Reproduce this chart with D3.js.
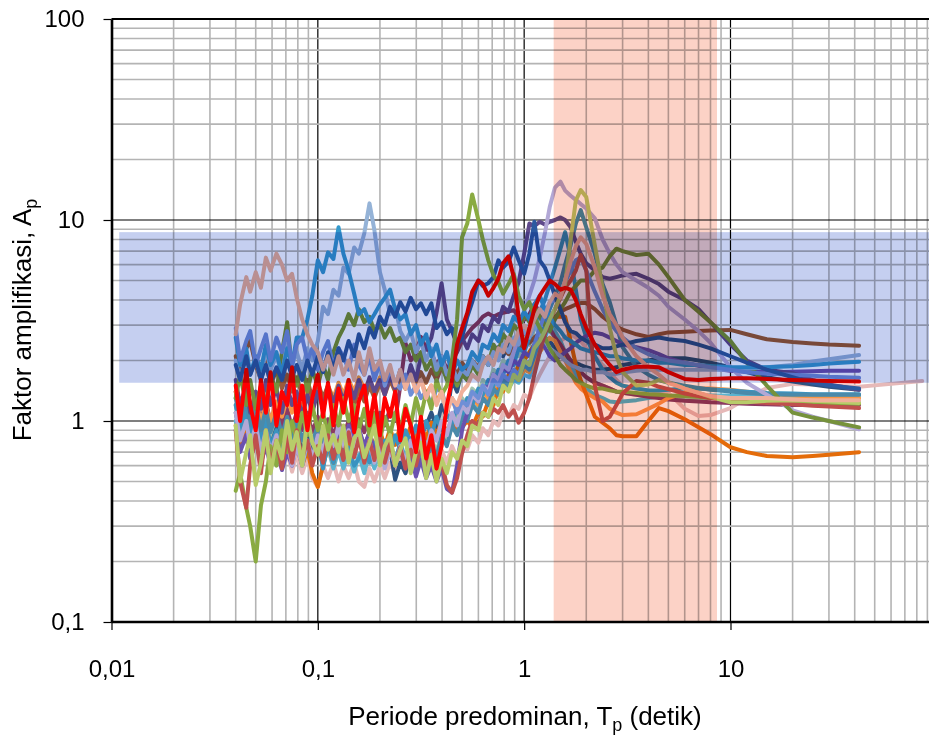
<!DOCTYPE html>
<html>
<head>
<meta charset="utf-8">
<script src="https://cdn.jsdelivr.net/npm/d3@7"></script>
<style>
body{margin:0;background:#fff;}
svg{display:block;font-family:"Liberation Sans",Arial,sans-serif;background:#fff;}
</style>
</head>
<body>
<div id="chart"></div>
<script>
// periods (s), shared by every record
const periods = [
  0.040,0.042,0.045,0.047,0.050,0.053,0.056,0.059,0.063,0.067,
  0.071,0.075,0.079,0.084,0.089,0.094,0.100,0.106,0.112,0.119,
  0.126,0.133,0.141,0.150,0.158,0.168,0.178,0.188,0.200,0.211,
  0.224,0.237,0.251,0.266,0.282,0.299,0.316,0.335,0.355,0.376,
  0.398,0.422,0.447,0.473,0.500,
  0.53,0.56,0.60,0.63,0.67,0.71,0.75,0.79,0.84,0.89,
  0.94,1.00,1.06,1.12,1.19,1.26,1.33,1.41,1.50,1.58,
  1.68,1.78,1.88,2.00,2.2,2.4,2.6,2.8,3.0,
  3.5,4,4.5,5,6,7,8,10,12,15,20,25,30,42,
  60,85
];

// amplification factor per record
const peach = [
  2.7,3.8,5.2,4.4,5.5,4.6,6.5,5.6,6.8,6.0,
  5.0,5.4,4.1,3.2,2.7,2.4,2.2,1.8,2.1,1.7,
  2.1,1.7,2.0,1.6,2.2,1.7,2.3,1.8,2.0,1.6,
  1.9,1.5,1.8,1.45,1.7,1.4,1.6,1.3,1.5,1.2,
  1.4,1.1,1.3,1.2,1.4,
  1.5,1.7,1.6,1.9,2.1,1.9,2.3,2.2,2.6,2.4,
  2.8,3.0,2.7,3.2,3.6,3.3,3.9,4.3,4.1,5.0,
  6.2,7.4,8.2,7.6,5.8,4.2,3.4,3.0,2.6,
  2.1,1.85,1.7,1.55,1.45,1.38,1.33,1.3,1.3,1.3,1.28,1.27,1.27,1.27
];
const lightBlue = [
  2.6,1.9,2.3,1.7,2.1,1.8,2.4,1.9,2.2,1.7,
  2.3,1.9,2.6,2.6,3.2,4.2,6.3,5.5,6.9,6.4,
  9.2,6.8,5.6,4.3,3.4,3.6,3.1,3.4,3.8,4.1,
  4.5,3.6,3.2,3.4,2.7,3.0,2.4,2.7,2.1,2.4,
  1.9,2.2,1.7,2.0,1.8,
  1.9,2.2,2.0,2.4,2.3,2.7,2.5,3.0,2.8,3.3,
  3.1,3.5,3.2,3.8,4.2,3.6,3.3,3.0,2.8,2.6,
  2.5,2.4,2.3,2.25,2.2,2.15,2.1,2.1,2.05,
  2.0,2.0,1.95,1.95,1.9,1.9,1.88,1.85,1.85,1.85,1.87,1.9,1.93,1.97
];
const lightSteel = [
  2.0,1.6,2.2,1.7,2.0,1.6,2.3,1.8,2.1,1.7,
  2.4,1.9,2.2,1.8,2.3,2.0,2.5,3.7,3.4,4.5,
  4.2,5.8,5.4,7.3,6.8,8.6,12.1,8.9,5.5,4.5,
  3.4,3.7,2.8,2.5,2.8,2.2,2.5,2.0,2.3,1.8,
  2.1,1.7,1.9,1.6,1.8,
  1.7,2.0,1.8,2.1,1.9,2.2,2.0,2.4,2.2,2.6,
  2.4,2.8,2.6,3.0,2.7,2.5,2.3,2.2,2.1,2.0,
  1.9,1.85,1.8,1.8,1.75,1.75,1.7,1.72,1.74,
  1.78,1.8,1.8,1.8,1.8,1.8,1.8,1.8,1.82,1.85,1.9,1.98,2.03,2.13
];
const cornflower = [
  2.9,2.0,2.5,2.8,1.9,2.3,2.7,2.0,2.6,2.2,
  2.8,1.9,2.4,2.6,2.0,2.3,1.8,2.2,2.5,1.85,
  2.3,2.1,1.8,2.4,1.9,1.7,2.1,1.6,1.95,1.5,
  1.8,1.55,1.45,1.7,1.35,1.5,1.3,1.4,1.2,1.45,
  1.4,1.15,1.3,1.1,1.25,
  1.2,1.4,1.3,1.5,1.35,1.6,1.5,1.7,1.6,1.8,
  1.7,2.0,1.9,2.4,2.9,3.4,3.9,4.0,4.3,4.9,
  5.6,6.3,6.5,5.6,4.4,3.6,3.1,2.8,2.6,
  2.3,2.15,2.05,2.0,1.95,1.9,1.85,1.8,1.75,1.72,1.7,1.68,1.66,1.64
];
const red = [
  1.5,1.0,1.8,1.2,0.9,1.6,1.1,1.75,0.95,1.4,
  1.2,1.85,1.0,1.5,0.9,1.3,1.7,1.05,1.55,0.95,
  1.45,1.1,1.6,0.88,1.25,1.5,0.95,1.35,0.85,1.3,
  1.05,1.4,0.8,1.15,0.95,0.7,1.05,0.65,0.85,0.58,
  0.75,1.2,1.6,2.4,2.9,
  3.45,4.4,5.0,4.8,4.2,4.6,5.1,6.1,6.6,5.2,
  3.3,2.3,2.9,3.6,4.2,4.6,5.0,4.8,4.5,4.6,
  4.5,4.0,3.4,2.9,2.4,2.1,1.9,1.75,1.8,
  1.86,1.86,1.85,1.75,1.62,1.6,1.62,1.63,1.63,1.62,1.6,1.59,1.58,1.57
];
const olive = [
  0.45,0.55,0.37,0.3,0.2,0.38,0.5,0.75,0.6,0.9,
  0.7,1.0,0.8,1.1,0.85,1.2,0.9,1.1,0.85,1.2,
  0.95,1.3,1.0,1.2,0.9,1.15,0.85,1.1,0.8,1.05,
  0.85,1.1,0.9,1.2,0.95,1.3,1.05,1.4,1.15,1.6,
  1.35,1.5,2.0,3.2,8.2,
  9.6,13.4,10.0,8.0,6.3,5.3,4.9,4.3,4.8,5.4,
  4.2,3.6,3.9,3.3,2.9,2.6,2.3,2.1,1.9,1.8,
  1.7,1.6,1.55,1.5,1.45,1.45,1.42,1.4,1.4,
  1.38,1.36,1.35,1.34,1.33,1.32,1.3,1.3,1.28,1.27,1.25,1.24,1.23,1.22
];
const green = [
  1.3,1.7,1.2,1.6,1.15,1.5,1.2,1.7,1.4,2.2,
  3.1,1.8,1.5,1.9,1.4,1.8,1.5,1.9,1.6,2.2,
  2.6,2.9,3.4,3.0,3.6,3.1,3.3,2.8,3.0,2.6,
  2.9,2.5,2.6,2.2,2.4,2.0,2.2,1.8,2.0,1.7,
  1.9,1.6,1.8,1.5,1.7,
  1.6,1.9,1.7,2.1,1.9,2.4,2.2,2.7,2.5,3.0,
  2.8,3.4,3.1,3.7,3.3,3.0,2.8,3.2,3.6,3.9,
  4.4,4.7,5.0,5.0,5.6,5.8,6.6,7.2,7.0,
  6.7,6.8,6.0,5.2,4.0,3.5,3.1,2.5,1.95,1.5,1.1,1.04,1.0,0.93
];
const lightGreen = [
  0.95,0.5,0.7,0.85,0.48,0.62,0.9,0.55,0.8,0.65,
  1.0,0.72,0.88,0.6,1.05,0.78,0.68,0.95,0.72,0.85,
  0.7,0.95,0.62,0.82,0.9,0.66,0.78,0.95,0.6,0.75,
  0.85,0.6,0.72,0.82,0.55,0.7,0.78,0.52,0.68,0.5,
  0.65,0.55,0.7,0.65,0.8,
  0.75,0.95,0.9,1.1,1.05,1.3,1.2,1.5,1.4,1.7,
  1.6,2.0,1.9,2.3,2.5,2.8,3.2,3.6,4.2,4.8,
  8.0,12.5,14.1,13.0,7.5,4.6,2.9,2.1,1.75,
  1.5,1.52,1.6,1.56,1.45,1.38,1.32,1.24,1.24,1.26,1.27,1.26,1.25,1.23
];
const paleLav = [
  1.1,0.8,1.0,0.75,0.95,0.7,0.9,0.7,0.85,0.65,
  0.8,0.6,0.75,0.6,0.8,0.65,0.85,0.7,0.9,0.75,
  0.95,0.75,0.9,0.7,0.85,0.65,0.8,0.62,0.75,0.58,
  0.72,0.6,0.75,0.62,0.8,0.68,0.85,0.72,0.9,0.8,
  1.0,0.85,1.1,0.95,1.2,
  1.1,1.35,1.25,1.5,1.4,1.7,1.6,1.9,1.8,2.2,
  2.6,3.5,4.2,5.0,6.5,8.6,11.6,14.5,15.5,14.0,
  13.2,12.6,12.0,11.4,10.2,8.0,6.8,6.0,5.5,
  5.0,4.6,4.2,3.7,3.2,2.8,2.45,1.85,1.55,1.35,1.13,1.05,1.0,0.91
];
const darkPurple = [
  1.6,1.2,1.5,1.1,1.4,1.15,1.6,1.2,1.45,1.1,
  1.5,1.2,1.4,1.05,1.35,1.1,1.4,1.15,1.45,1.2,
  1.5,1.25,1.55,1.3,1.6,1.35,1.65,1.4,1.6,1.35,
  1.7,1.45,1.8,1.5,1.9,1.6,2.1,2.3,2.6,3.45,
  4.85,3.2,2.8,2.4,2.6,
  2.3,2.7,2.5,3.0,2.8,3.3,3.1,3.7,3.5,4.2,
  4.9,6.8,9.6,9.3,9.8,9.5,9.8,10.0,10.3,10.0,
  9.2,7.8,6.8,6.1,5.6,5.2,5.1,5.2,5.3,
  5.4,5.1,4.8,4.4,4.0,3.6,3.1,2.4,2.0,1.8,1.73,1.6,1.52,1.43
];
const flatPurple = [
  0.9,0.7,0.85,0.65,0.8,0.62,0.75,0.6,0.72,0.57,
  0.7,0.6,0.78,0.62,0.8,0.65,0.85,0.7,0.88,0.72,
  0.9,0.75,0.95,0.78,0.92,0.75,0.88,0.7,0.82,0.66,
  0.78,0.62,0.72,0.58,0.68,0.53,0.64,0.52,0.6,0.5,
  0.58,0.46,0.44,0.6,0.9,
  1.1,1.35,1.25,1.5,1.45,1.7,1.6,1.85,1.75,2.0,
  1.9,2.2,2.1,2.4,2.5,2.33,2.1,2.0,2.1,2.2,
  2.3,2.45,2.55,2.65,2.75,2.7,2.6,2.5,2.4,
  2.33,2.25,2.15,2.05,1.95,1.88,1.83,1.78,1.76,1.75,1.76,1.77,1.78,1.78
];
const darkBlue = [
  1.9,1.6,2.1,1.7,2.0,1.6,1.9,1.55,1.85,1.6,
  2.0,1.65,1.9,1.6,2.0,1.7,2.1,1.75,2.2,1.8,
  2.3,2.0,2.5,2.1,2.7,2.3,2.9,2.6,3.3,3.0,
  3.7,3.3,3.9,3.5,4.1,3.6,3.85,3.4,3.85,2.9,
  3.1,2.7,2.9,2.4,2.6,
  3.3,3.9,5.0,4.7,4.85,5.2,6.3,5.8,6.2,7.3,
  6.3,5.4,6.8,9.8,6.3,5.8,5.0,4.2,3.6,3.1,
  2.8,2.74,2.6,2.5,2.4,2.3,2.3,2.35,2.4,
  2.5,2.55,2.6,2.55,2.5,2.4,2.3,2.1,1.95,1.8,1.65,1.55,1.5,1.45
];
const tealA = [
  1.2,0.9,1.1,0.85,1.05,0.8,1.0,0.75,0.9,0.7,
  0.85,0.65,0.8,0.6,0.78,0.62,0.8,0.58,0.78,0.62,
  0.8,0.7,0.74,0.6,0.65,0.75,0.62,0.78,0.65,0.8,
  0.68,0.85,0.72,0.9,0.78,0.95,0.8,1.0,0.85,1.05,
  0.9,1.1,0.95,1.2,1.05,
  1.3,1.2,1.45,1.35,1.6,1.5,1.8,1.7,2.0,1.9,
  2.3,2.2,2.6,3.0,3.5,4.0,4.8,5.8,7.2,8.7,
  6.5,4.5,3.2,2.6,2.1,1.8,1.65,1.55,1.5,
  1.45,1.42,1.42,1.43,1.45,1.45,1.44,1.42,1.4,1.38,1.37,1.36,1.36,1.36
];
const tealB = [
  1.3,1.0,1.25,0.95,1.2,0.9,1.15,0.88,1.1,0.85,
  1.05,0.82,1.0,0.8,0.98,0.78,0.95,0.76,0.92,0.74,
  0.9,0.72,0.88,0.7,0.86,0.68,0.84,0.66,0.82,0.64,
  0.8,0.62,0.78,0.6,0.74,0.58,0.7,0.6,0.76,0.66,
  0.85,0.75,0.95,0.85,1.05,
  1.0,1.2,1.1,1.3,1.2,1.45,1.35,1.6,1.5,1.75,
  1.65,1.9,1.8,2.1,2.5,3.0,3.6,4.2,4.9,6.0,
  7.5,9.6,11.2,9.2,6.8,4.8,3.9,3.0,2.33,
  1.86,1.7,1.6,1.55,1.5,1.46,1.43,1.4,1.38,1.36,1.35,1.35,1.35,1.35
];
const darkRed = [
  0.9,0.5,0.37,0.6,0.85,0.55,0.9,0.6,0.8,0.58,
  0.85,0.62,0.9,0.65,0.8,0.6,0.75,0.62,0.85,0.65,
  0.8,0.64,0.88,0.66,0.82,0.62,0.8,0.64,0.85,0.62,
  0.78,0.6,0.74,0.58,0.72,0.6,0.75,0.58,0.68,0.55,
  0.62,0.48,0.44,0.52,0.69,
  0.85,1.0,0.95,1.1,1.05,1.15,1.1,1.2,1.05,1.13,
  0.98,1.1,1.3,1.7,2.2,2.7,3.2,3.6,4.1,4.6,
  5.0,5.6,6.7,5.6,1.5,1.0,1.05,1.2,1.37,
  1.58,1.55,1.48,1.44,1.37,1.33,1.3,1.27,1.25,1.23,1.21,1.19,1.18,1.16
];
const deepOrange = [
  0.95,0.75,0.9,0.7,0.85,0.68,0.82,0.66,0.8,0.64,
  0.78,0.62,0.75,0.6,0.72,0.55,0.47,0.6,0.75,0.62,
  0.8,0.65,0.82,0.68,0.85,0.7,0.88,0.72,0.9,0.74,
  0.92,0.76,0.95,0.78,0.95,0.8,0.95,0.82,0.98,0.85,
  1.0,0.88,1.02,0.9,0.93,
  1.0,0.93,1.1,1.05,1.25,1.2,1.45,1.4,1.7,1.65,
  1.9,2.0,2.2,2.4,2.6,2.9,3.1,3.3,3.3,3.3,
  2.5,1.9,1.6,1.35,1.05,0.98,0.92,0.85,0.84,
  0.84,1.0,1.16,1.12,1.02,0.93,0.86,0.74,0.7,0.67,0.66,0.67,0.68,0.70
];
const lightOrange = [
  1.4,1.1,1.3,1.05,1.25,1.0,1.2,1.0,1.25,1.05,
  1.3,1.1,1.35,1.15,1.4,1.2,1.45,1.25,1.5,1.3,
  1.55,1.35,1.6,1.4,1.65,1.45,1.6,1.4,1.65,1.45,
  1.7,1.5,1.75,1.5,1.7,1.45,1.6,1.35,1.5,1.25,
  1.4,1.15,1.3,1.1,1.25,
  1.15,1.3,1.2,1.4,1.3,1.5,1.4,1.6,1.5,1.7,
  1.6,1.8,1.75,2.0,2.2,2.4,2.6,2.5,2.2,2.0,
  1.75,1.55,1.45,1.38,1.3,1.25,1.15,1.1,1.07,
  1.08,1.15,1.22,1.3,1.38,1.45,1.45,1.43,1.4,1.37,1.34,1.32,1.31,1.30
];
const palePink = [
  1.0,0.75,0.9,0.7,0.85,0.65,0.8,0.62,0.75,0.58,
  0.7,0.56,0.68,0.55,0.66,0.52,0.47,0.6,0.52,0.62,
  0.5,0.6,0.52,0.62,0.5,0.47,0.58,0.5,0.6,0.52,
  0.62,0.54,0.64,0.55,0.66,0.56,0.68,0.58,0.7,0.6,
  0.72,0.62,0.75,0.65,0.8,
  0.72,0.85,0.78,0.92,0.85,1.0,0.95,1.1,1.05,1.2,
  1.15,1.35,1.3,1.5,1.7,1.9,2.1,2.3,2.5,2.6,
  2.7,2.6,2.5,2.3,2.1,1.9,1.75,1.6,1.5,
  1.45,1.42,1.4,1.38,1.15,1.06,1.07,1.16,1.3,1.46,1.53,1.52,1.5,1.48,
  1.53,1.58
];
const brown = [
  2.1,1.7,2.3,2.5,1.9,1.6,2.0,1.5,1.8,1.45,
  1.7,1.4,1.65,1.35,1.6,1.3,1.55,1.3,1.5,1.25,
  1.45,1.2,1.4,1.2,1.45,1.25,1.5,1.3,1.55,1.35,
  1.6,1.4,1.65,1.45,1.7,1.5,1.75,1.55,1.8,1.6,
  1.85,1.65,1.9,1.7,1.95,
  1.8,2.0,1.85,2.1,1.95,2.2,2.05,2.3,2.15,2.4,
  2.3,2.5,2.45,2.6,2.75,2.9,3.1,3.3,3.5,3.6,
  3.7,3.8,3.86,3.86,3.6,3.3,3.1,2.95,2.85,
  2.7,2.62,2.7,2.76,2.78,2.8,2.82,2.84,2.7,2.55,2.47,2.43,2.4,2.37
];
const plum = [
  1.4,1.1,1.35,1.05,1.3,1.0,1.25,0.98,1.2,0.95,
  1.15,0.92,1.1,0.9,1.1,0.88,1.05,0.86,1.02,0.85,
  1.0,0.84,1.0,0.85,1.02,0.88,1.05,0.9,1.1,0.95,
  1.15,1.0,1.5,2.44,2.0,2.17,2.62,2.3,2.17,1.9,
  2.1,1.8,2.0,2.2,2.5,
  2.7,2.9,3.1,3.3,3.43,3.3,3.4,3.45,3.5,3.56,
  3.3,3.18,3.4,3.8,3.5,3.2,2.9,2.6,2.4,2.2,
  2.0,1.85,1.75,1.65,1.55,1.5,1.45,1.4,1.38,
  1.35,1.32,1.3,1.28,1.26,1.25,1.24,1.23,1.22,1.21,1.2,1.2,1.2,1.2
];
const darkSlate = [
  1.1,0.85,1.05,0.8,1.0,0.78,0.95,0.75,0.92,0.74,
  0.9,0.72,0.88,0.7,0.86,0.72,0.9,0.74,0.92,0.76,
  0.95,0.78,0.84,0.72,0.9,0.74,0.88,0.7,0.84,0.62,
  0.72,0.51,0.62,0.55,0.7,0.6,0.85,0.95,1.1,0.93,
  1.2,1.05,1.6,1.4,1.8,
  1.6,2.0,1.8,2.1,1.9,2.2,2.33,2.1,2.4,2.2,
  2.5,2.3,2.6,2.5,2.7,2.6,2.5,2.3,2.2,2.1,
  2.0,1.95,1.9,1.85,1.8,1.8,1.82,1.85,1.9,
  1.95,2.0,2.05,2.05,2.05,2.0,1.95,1.85,1.75,1.65,1.57,1.52,1.48,1.43
];
const sage = [
  1.2,0.95,1.15,0.9,1.1,0.88,1.05,0.85,1.0,0.82,
  0.98,0.8,0.95,0.78,0.92,0.76,0.9,0.75,0.88,0.74,
  0.86,0.72,0.84,0.7,0.82,0.68,0.8,0.66,0.78,0.64,
  0.76,0.62,0.74,0.62,0.75,0.64,0.78,0.66,0.82,0.7,
  0.88,0.78,0.95,1.1,1.3,
  1.2,1.45,1.35,1.6,1.5,1.8,1.7,2.0,1.9,2.3,
  2.1,2.6,2.4,2.9,3.3,3.0,2.8,2.6,2.4,2.2,
  2.0,1.85,1.75,1.65,1.55,1.5,1.45,1.4,1.38,
  1.35,1.33,1.32,1.31,1.3,1.3,1.3,1.3,1.3,1.3,1.29,1.28,1.27,1.26
];
const lightTeal = [
  1.0,0.8,0.95,0.75,0.9,0.72,0.88,0.7,0.85,0.68,
  0.82,0.66,0.8,0.64,0.78,0.62,0.76,0.6,0.74,0.58,
  0.72,0.58,0.7,0.56,0.68,0.55,0.7,0.58,0.72,0.6,
  0.74,0.62,0.78,0.65,0.82,0.7,0.86,0.74,0.9,0.8,
  0.95,0.85,1.0,0.92,1.1,
  1.05,1.2,1.15,1.3,1.25,1.4,1.35,1.5,1.45,1.6,
  1.55,1.7,1.65,1.9,2.2,2.6,3.0,2.8,2.5,2.2,
  1.9,1.7,1.55,1.45,1.35,1.3,1.25,1.24,1.25,
  1.27,1.3,1.32,1.33,1.34,1.34,1.34,1.34,1.34,1.34,1.34,1.33,1.33,1.33
];

// shaded ranges
const ampRange = [1.55, 8.7];      // horizontal band
const ampRangeStart = 0.0109;
const periodRange = [1.39, 8.6];   // vertical band

const yTicks = [0.1, 1, 10, 100];
const xTicks = [0.01, 0.1, 1, 10];

// draw order, back to front
const records = [
  ['palePink', palePink], ['lightTeal', lightTeal], ['sage', sage], ['darkSlate', darkSlate],
  ['plum', plum], ['lightOrange', lightOrange], ['deepOrange', deepOrange], ['brown', brown],
  ['tealA', tealA], ['tealB', tealB], ['flatPurple', flatPurple], ['darkPurple', darkPurple],
  ['paleLav', paleLav], ['green', green], ['lightSteel', lightSteel], ['lightBlue', lightBlue],
  ['cornflower', cornflower], ['darkBlue', darkBlue], ['olive', olive], ['darkRed', darkRed],
  ['lightGreen', lightGreen], ['peach', peach], ['red', red]
];
const colors = {
  palePink:'#e6b9b8', lightTeal:'#5cb4cf', sage:'#a3c4ac', darkSlate:'#2f5380',
  plum:'#8c3a62', lightOrange:'#f79646', deepOrange:'#e46c0a', brown:'#9c5a3c',
  tealA:'#3a93c0', tealB:'#4a8aaa', flatPurple:'#6a52b0', darkPurple:'#5f4a8b',
  paleLav:'#b2a8d6', green:'#76923c', lightSteel:'#95b3d7', lightBlue:'#3399cc',
  cornflower:'#6f8fd6', darkBlue:'#2c5aa0', olive:'#8aab42', darkRed:'#c0504d',
  lightGreen:'#b8cc6a', peach:'#f0b09a', red:'#ff0000'
};

const width = 929, height = 735;
const plotLeft = 111.5, plotTop = 19, plotBottom = 622;
const decade = 206.33;

const x = d3.scaleLog().domain([0.01, 100]).range([plotLeft, plotLeft + 4 * decade]);
const y = d3.scaleLog().domain([0.1, 100]).range([plotBottom, plotTop]);
const fmt = d => String(d).replace('.', ',');

const svg = d3.select('#chart').append('svg')
  .attr('width', width)
  .attr('height', height);

//grid
const isMajor = d => Math.abs(Math.log10(d) - Math.round(Math.log10(d))) < 1e-6;
const grid = svg.append('g').attr('class', 'grid');
const xGrid = x.ticks().filter(d => d > 0.01);
const yGrid = y.ticks().filter(d => d > 0.1 && d < 100);

grid.selectAll('.vline')
  .data(xGrid)
  .enter()
  .append('line')
  .attr('class', 'vline')
  .attr('x1', d => x(d)).attr('x2', d => x(d))
  .attr('y1', plotTop).attr('y2', plotBottom)
  .style('stroke', d => isMajor(d) ? '#000' : '#b4b4b4')
  .style('stroke-width', d => isMajor(d) ? 1.2 : 1.6);

grid.selectAll('.hline')
  .data(yGrid)
  .enter()
  .append('line')
  .attr('class', 'hline')
  .attr('x1', plotLeft).attr('x2', width)
  .attr('y1', d => y(d)).attr('y2', d => y(d))
  .style('stroke', d => isMajor(d) ? '#000' : '#b4b4b4')
  .style('stroke-width', d => isMajor(d) ? 1.2 : 1.6);

//records
const line = d3.line()
  .defined(d => d[0] != null && d[1] != null)
  .x(d => x(d[0]))
  .y(d => y(d[1]));

svg.selectAll('.record')
  .data(records)
  .enter()
  .append('path')
  .attr('class', 'record')
  .attr('d', d => line(d[1].map((v, i) => [periods[i], v])))
  .style('fill', 'none')
  .style('stroke', d => colors[d[0]])
  .style('stroke-width', 4)
  .style('stroke-linejoin', 'round')
  .style('stroke-linecap', 'round');

//bands, multiplied over lines and grid
svg.append('rect')
  .attr('x', x(periodRange[0]))
  .attr('width', x(periodRange[1]) - x(periodRange[0]))
  .attr('y', plotTop).attr('height', plotBottom - plotTop)
  .style('fill', 'rgb(252,210,198)')
  .style('mix-blend-mode', 'multiply');

svg.append('rect')
  .attr('x', x(ampRangeStart))
  .attr('width', width - x(ampRangeStart))
  .attr('y', y(ampRange[1]))
  .attr('height', y(ampRange[0]) - y(ampRange[1]))
  .style('fill', 'rgb(197,207,240)')
  .style('mix-blend-mode', 'multiply');

//frame
svg.append('line')
  .attr('x1', plotLeft).attr('x2', width).attr('y1', plotTop).attr('y2', plotTop)
  .style('stroke', '#000').style('stroke-width', 2);

//axes
const axisY = d3.axisLeft(y)
  .tickValues(yTicks)
  .tickFormat(fmt)
  .tickSize(8)
  .tickSizeOuter(0)
  .tickPadding(19);
const axisX = d3.axisBottom(x)
  .tickValues(xTicks)
  .tickFormat(fmt)
  .tickSize(8)
  .tickSizeOuter(0)
  .tickPadding(30);

const gy = svg.append('g')
  .attr('transform', `translate(${plotLeft},0)`)
  .call(axisY);
const gx = svg.append('g')
  .attr('transform', `translate(0,${plotBottom})`)
  .call(axisX);

gy.select('.domain').style('stroke', '#000').style('stroke-width', 2.6);
gx.select('.domain').attr('d', `M${plotLeft},0H${width}`).style('stroke', '#000').style('stroke-width', 2.6);
svg.selectAll('.tick line').style('stroke', '#000').style('stroke-width', 1.2);
svg.selectAll('.tick text').style('font-size', '24px').style('fill', '#000');

//titles
const xTitle = svg.append('text')
  .attr('x', 525)
  .attr('y', 725)
  .attr('text-anchor', 'middle')
  .style('font-size', '26px');
xTitle.append('tspan').text('Periode predominan, T');
xTitle.append('tspan').attr('dy', 6).style('font-size', '18px').text('p');
xTitle.append('tspan').attr('dy', -6).text(' (detik)');

const yTitle = svg.append('text')
  .attr('transform', 'translate(31,320) rotate(-90)')
  .attr('text-anchor', 'middle')
  .style('font-size', '26px');
yTitle.append('tspan').text('Faktor amplifikasi, A');
yTitle.append('tspan').attr('dy', 6).style('font-size', '18px').text('p');
</script>
</body>
</html>
